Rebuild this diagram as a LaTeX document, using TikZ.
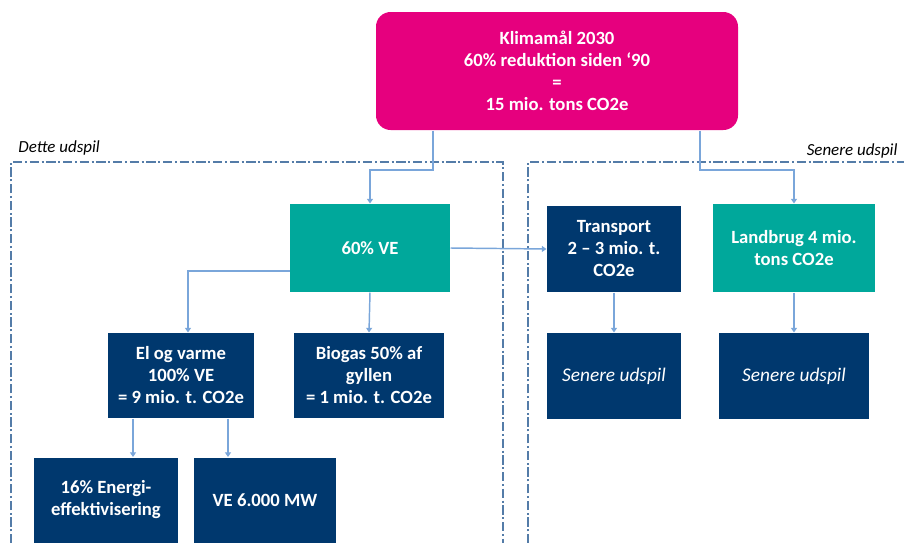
\documentclass[tikz,border=0pt]{standalone}
\usepackage{fontspec}
\setmainfont{Carlito}
\usetikzlibrary{arrows.meta}

\definecolor{klimapink}{RGB}{230,0,126}
\definecolor{veteal}{RGB}{0,168,155}
\definecolor{navyblue}{RGB}{0,56,110}
\definecolor{framegrey}{RGB}{84,124,168}
\definecolor{connblue}{RGB}{122,166,218}

\tikzset{every picture/.style={line width=0.75pt}}
\tikzset{
  boxbase/.style={inner sep=2pt, align=center, text=white, font=\fontsize{14}{16.5}\selectfont\bfseries},
  pinkbox/.style={boxbase, fill=klimapink, rounded corners=11pt},
  tealbox/.style={boxbase, fill=veteal},
  navybox/.style={boxbase, fill=navyblue},
  laterbox/.style={navybox, font=\fontsize{14.5}{16.5}\selectfont\itshape},
  conn/.style={draw=connblue, line width=1.1pt, -{Triangle[width=4.5pt,length=3.5pt]}},
  frame/.style={draw=framegrey, line width=1.1pt, dash pattern=on 7pt off 2pt on 1.5pt off 2pt},
  framelabel/.style={font=\fontsize{12.7}{14}\selectfont\itshape, inner sep=0pt}
}

\begin{document}
\begin{tikzpicture}[x=0.75pt,y=0.75pt,yscale=-1,xscale=1]
	\useasboundingbox (0,0) rectangle (904,543);

	%Dashed frames
	\draw [frame] (11,560) -- (11,162) -- (503,162) -- (503,560) ;
	\draw [frame] (528,560) -- (528,162) -- (912,162) ;

	% Frame labels
	\node [framelabel, anchor=west] (dette) at (18,148) {Dette udspil};
	\node [framelabel, anchor=east] (senere) at (898,151) {Senere udspil};

	% Boxes
	\node [pinkbox, minimum width=271.5pt, minimum height=88.5pt] (klima) at (557,71) {Klimamål 2030\\60\% reduktion siden ‘90\\=\\15 mio. tons CO2e};
	\node [tealbox, minimum width=120pt, minimum height=66pt] (ve) at (370,248) {60\% VE};
	\node [navybox, minimum width=100.5pt, minimum height=64.5pt] (trans) at (614,249) {Transport\\2 – 3 mio. t.\\CO2e};
	\node [tealbox, minimum width=121.5pt, minimum height=66pt] (land) at (794,248) {Landbrug 4 mio.\\tons CO2e};
	\node [navybox, minimum width=109.5pt, minimum height=63.75pt] (el) at (181,375.5) {El og varme\\100\% VE\\= 9 mio. t. CO2e};
	\node [navybox, minimum width=112.5pt, minimum height=63.75pt] (bio) at (369,375.5) {Biogas 50\% af\\gyllen\\= 1 mio. t. CO2e};
	\node [laterbox, minimum width=100.5pt, minimum height=64.5pt] (sen1) at (614,376) {Senere udspil};
	\node [laterbox, minimum width=112.5pt, minimum height=64.5pt] (sen2) at (794,376) {Senere udspil};
	\node [navybox, minimum width=108pt, minimum height=63.75pt] (eff) at (106,500) {16\% Energi-\\effektivisering};
	\node [navybox, minimum width=106.5pt, minimum height=63.75pt] (mw) at (265,500) {VE 6.000 MW};

	% Bend points
	\coordinate (kL) at (433,170);
	\coordinate (kR) at (700,170);
	\coordinate (vL) at (188,271);
	\coordinate (eA) at (133,0);
	\coordinate (eB) at (228,0);

	% Connectors
	\draw [conn] (klima.south -| kL) -- (kL) -| (ve.north) ;
	\draw [conn] (klima.south -| kR) -- (kR) -| (land.north) ;
	\draw [conn] (ve.east) -- (trans.west) ;
	\draw [conn] (ve.west |- vL) -| (el.north -| vL) ;
	\draw [conn] (ve.south) -- (bio.north) ;
	\draw [conn] (trans.south) -- (sen1.north) ;
	\draw [conn] (land.south) -- (sen2.north) ;
	\draw [conn] (el.south -| eA) -- (eff.north -| eA) ;
	\draw [conn] (el.south -| eB) -- (mw.north -| eB) ;

\end{tikzpicture}
\end{document}
